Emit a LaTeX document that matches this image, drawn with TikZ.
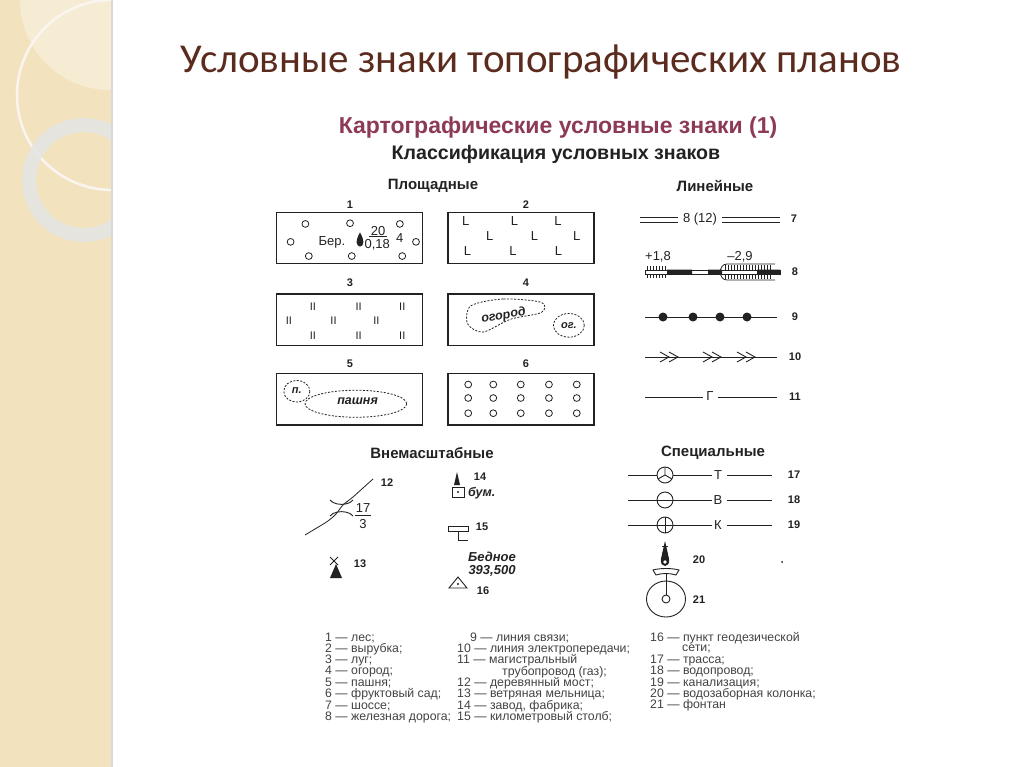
\documentclass[tikz,border=0pt]{standalone}
\usepackage{fontspec}
\setmainfont{Liberation Sans}
\newfontfamily\titlefont{Carlito}
\definecolor{beige}{HTML}{F2E3BE}
\definecolor{titlec}{HTML}{5B2B1E}
\definecolor{maroon}{HTML}{8C3A55}
\definecolor{ink}{HTML}{222222}
\tikzset{
 lbl/.style={font=\fontsize{11}{11}\selectfont\bfseries, text=ink, inner sep=0pt},
 txt/.style={font=\fontsize{13}{13}\selectfont, text=ink, inner sep=0pt},
 bit/.style={font=\fontsize{12.5}{12.5}\selectfont\bfseries\itshape, text=ink, inner sep=0pt},
 head/.style={font=\fontsize{15}{15}\selectfont\bfseries, text=ink, inner sep=0pt},
 frame/.style={draw=ink, line width=1.2pt},
 ln/.style={draw=ink, line width=0.9pt},
 sym/.style={draw=ink, line width=0.9pt},
 leg/.style={font=\fontsize{12.3}{12.3}\selectfont, text=ink!85, anchor=west, inner sep=0pt},
 dot/.style={draw=ink, line width=0.8pt},
 dsh/.style={draw=ink, line width=0.8pt, dash pattern=on 2pt off 1.5pt},
}
\begin{document}
\begin{tikzpicture}[x=1pt,y=-1pt]
\useasboundingbox (0,0) rectangle (1024,767);
\fill[white] (0,0) rectangle (1024,767);
% left strip
\fill[beige] (0,0) rectangle (111,767);
\begin{scope}
\clip (0,0) rectangle (111,767);
\fill[white, opacity=0.35] (110,0) circle (90);
\draw[white!92!brown, line width=2.5pt] (112,95) circle (95);
\draw[black!10!white, line width=14pt, opacity=0.85] (84,180) circle (55);
\end{scope}
\fill[black!15] (111,0) rectangle (113,767);
% titles
\node[font=\titlefont\fontsize{41}{41}\selectfont, text=titlec] (title) at (541,62) {Условные знаки топографических планов};
\node[font=\fontsize{23}{23}\selectfont\bfseries, text=maroon] (h1) at (558,128) {Картографические условные знаки (1)};
\node[font=\fontsize{19.6}{19.6}\selectfont\bfseries, text=ink] (h2) at (556,154) {Классификация условных знаков};
\node[head] (hp) at (433,186) {Площадные};
\node[head] (hl) at (715,186) {Линейные};

% ---------- areal block (scaled coords)
\begin{scope}[shift={(270,180)}, x=0.3435pt, y=-0.338pt]
\foreach \n/\x/\y in {1/233/72,2/745/72,3/233/305,4/745/305,5/233/545,6/745/545}
  \node[lbl] (n\n) at (\x,\y) {\n};
\draw[frame] (20,95) rectangle (445,248);
\draw[frame] (518,95) rectangle (943,248);
\draw[frame] (20,337) rectangle (445,490);
\draw[frame] (518,337) rectangle (943,490);
\draw[frame] (20,572) rectangle (445,725);
\draw[frame] (518,572) rectangle (943,725);
% box1
\foreach \x/\y in {103/130,233/128,378/130,60/183,425/183,113/225,238/225,385/225}
  \draw[dot] (\x,\y) circle (10);
\node[txt] (ber) at (180,185) {Бер.};
\fill[ink] (262,155) .. controls (248,180) and (250,195) .. (262,197) .. controls (274,195) and (276,180) .. (262,155);
\node[txt] (t20) at (315,152) {20};
\draw[ink, line width=0.8pt] (288,168) -- (342,168);
\node[txt] (t018) at (312,192) {0,18};
\node[txt] (t4) at (378,172) {4};
% box2
\foreach \x/\y in {570/120,712/120,838/120,640/165,770/165,893/165,575/210,707/210,840/210}
  \node[txt] at (\x,\y) {L};
% box3
\foreach \x/\y in {125/375,258/375,385/375,55/415,185/415,310/415,125/460,258/460,385/460}
  \node[txt,font=\fontsize{11}{11}\selectfont] at (\x,\y) {II};
% box4
\draw[dsh] plot[smooth cycle] coordinates {(585,372) (680,352) (790,362) (790,392) (700,412) (620,450) (575,425)};
\node[bit, rotate=10] (og) at (680,402) {огород};
\draw[dsh] (870,430) ellipse (45 and 35);
\node[bit,font=\fontsize{11}{11}\selectfont\bfseries\itshape] (og2) at (870,430) {ог.};
% box5
\draw[dsh] (78,625) ellipse (38 and 32);
\node[bit,font=\fontsize{11}{11}\selectfont\bfseries\itshape] (p) at (78,623) {п.};
\draw[dsh] (250,662) ellipse (148 and 40);
\node[bit] (pash) at (255,655) {пашня};
% box6
\foreach \x in {577,650,730,812,893}
  \foreach \y in {605,645,690}
    \draw[dot] (\x,\y) circle (10);
\end{scope}

% ---------- linear (real coords)
% 7
\draw[ln] (640,217) -- (678,217) (640,222) -- (678,222);
\draw[ln] (722,217) -- (780,217) (722,222) -- (780,222);
\node[txt] (t812) at (700,219) {8 (12)};
\node[lbl] (r7) at (794,219) {7};
% 8
\node[txt] (p18) at (658,257) {+1,8};
\node[txt] (m29) at (740,257) {–2,9};
\foreach \x in {647,650,...,667} \draw[ink,line width=0.5pt] (\x,266) -- (\x,278);
\foreach \x in {725,728,...,772} \draw[ink,line width=0.5pt] (\x,265) -- (\x,279);
\fill[white] (722,270) rectangle (775,274);
\draw[ink,line width=0.8pt] (775,264) -- (727,264) .. controls (718,264) and (718,280) .. (727,280) -- (775,280);
\draw[ink,line width=0.7pt, fill=white] (645,270) rectangle (780,274);
\fill[ink] (667,269.5) rectangle (692,274.5) (708,269.5) rectangle (722,274.5) (757,269.5) rectangle (780,274.5);
\node[lbl] (r8) at (795,272) {8};
% 9
\draw[ln] (645,317) -- (777,317);
\foreach \x in {663,693,720,747} \fill[ink] (\x,317) circle (4.5);
\node[lbl] (r9) at (795,317) {9};
% 10
\draw[ln] (645,357) -- (777,357);
\foreach \x in {660,703,737} {
  \draw[ink,line width=0.9pt] (\x,352) -- (\x+9,357) -- (\x,362);
  \draw[ink,line width=0.9pt] (\x+9,352) -- (\x+18,357) -- (\x+9,362);
}
\node[lbl] (r10) at (795,357) {10};
% 11
\draw[ln] (645,397) -- (703,397) (718,397) -- (777,397);
\node[txt] (g) at (710,396) {Г};
\node[lbl] (r11) at (795,397) {11};

% ---------- out-of-scale (real coords)
\node[head] (hv) at (432,453) {Внемасштабные};
\node[head] (hs) at (713,453) {Специальные};
% 12
\draw[ink,line width=0.8pt] plot[smooth] coordinates {(305,535) (315,529) (328,521) (336,514) (343,505) (353,497) (363,488) (373,479)};
\draw[sym] (330,500) -- (333,502.5) .. controls (338,505) and (345,505) .. (350,502.5) -- (353,500);
\draw[sym] (330,516) -- (333,513.5) .. controls (338,511) and (345,511) .. (350,513.5) -- (353,516);
\node[txt] (s17) at (363,508) {17};
\draw[ink,line width=0.7pt] (355,515.5) -- (371,515.5);
\node[txt] (s3) at (363,524) {3};
\node[lbl] (r12) at (387,483) {12};
% 13
\draw[ink,line width=0.8pt] (330,557) -- (338,565) (338,557) -- (330,565);
\fill[ink] (330,578) -- (342,578) -- (336,564) -- cycle;
\node[lbl] (r13) at (360,564) {13};
% 14
\fill[ink] (454,485) -- (460,485) -- (457,472) -- cycle;
\draw[sym] (452,487) rectangle (464,497);
\fill[ink] (458,492) circle (1.1);
\node[lbl] (r14) at (480,477) {14};
\node[bit, anchor=west] (bum) at (468,493) {бум.};
% 15
\draw[sym] (448,526) rectangle (468,531);
\draw[sym] (458,531) -- (458,540) -- (468,540);
\node[lbl] (r15) at (482,527) {15};
% 16
\node[bit,font=\fontsize{13}{13}\selectfont\bfseries\itshape] (bed) at (492,557) {Бедное};
\node[bit,font=\fontsize{13}{13}\selectfont\bfseries\itshape] (num) at (492,571) {393,500};
\draw[sym] (449,588) -- (467,588) -- (458,577) -- cycle;
\fill[ink] (458,584) circle (1.1);
\node[lbl] (r16) at (483,591) {16};
% 17-19
\foreach \y/\L/\N/\k in {475/Т/17/a,500/В/18/b,525/К/19/c} {
  \draw[ln] (628,\y) -- (657,\y) (673,\y) -- (712,\y) (727,\y) -- (772,\y);
  \draw[sym] (665,\y) circle (8);
  \node[txt] (L\k) at (718,\y) {\L};
  \node[lbl] (r\N) at (794,\y) {\N};
}
\draw[sym] (665,475) -- (665,467) (665,475) -- (658,479) (665,475) -- (672,479);
\draw[sym] (657,500) -- (673,500);
\draw[sym] (657,525) -- (673,525) (665,517) -- (665,533);
% 20
\fill[ink] (662,554) -- (668,554) -- (665,541) -- cycle;
\draw[ink,line width=0.8pt] (662,546) -- (668,546);
\fill[ink] (665,549) .. controls (660,556) and (659,566) .. (665,566) .. controls (671,566) and (670,556) .. (665,549);
\fill[white] (665,562) circle (1.8);
\node[lbl] (r20) at (699,560) {20};
\fill[ink] (782,562) circle (1);
% 21
\draw[sym] (666,599) ellipse (19.5 and 18);
\draw[sym] (666,599) circle (4);
\draw[sym] (666,595) -- (666,574);
\draw[sym] (653,570) .. controls (660,568) and (672,568) .. (679,570) -- (676,575) .. controls (670,573) and (662,573) .. (656,575) -- cycle;
\node[lbl] (r21) at (699,600) {21};

% legend
\foreach \t [count=\i from 0] in {1 — лес;,2 — вырубка;,3 — луг;,4 — огород;,5 — пашня;,6 — фруктовый сад;,7 — шоссе;,8 — железная дорога;}
  \node[leg] (la\i) at (325,638+11.3*\i) {\t};
\node[leg] (lb0) at (470,638) {9 — линия связи;};
\node[leg] (lb1) at (457,638+11.3) {10 — линия электропередачи;};
\node[leg] (lb2) at (457,638+22.6) {11 — магистральный};
\node[leg] (lb3) at (502,638+33.9) {трубопровод (газ);};
\node[leg] (lb4) at (457,638+45.2) {12 — деревянный мост;};
\node[leg] (lb5) at (457,638+56.5) {13 — ветряная мельница;};
\node[leg] (lb6) at (457,638+67.8) {14 — завод, фабрика;};
\node[leg] (lb7) at (457,638+79.1) {15 — километровый столб;};
\node[leg] (lc0) at (650,638) {16 — пункт геодезической};
\node[leg] (lc1) at (682,638+11.3) {сети;};
\node[leg] (lc2) at (650,638+22.6) {17 — трасса;};
\node[leg] (lc3) at (650,638+33.9) {18 — водопровод;};
\node[leg] (lc4) at (650,638+45.2) {19 — канализация;};
\node[leg] (lc5) at (650,638+56.5) {20 — водозаборная колонка;};
\node[leg] (lc6) at (650,638+67.8) {21 — фонтан};
\end{tikzpicture}
\end{document}
